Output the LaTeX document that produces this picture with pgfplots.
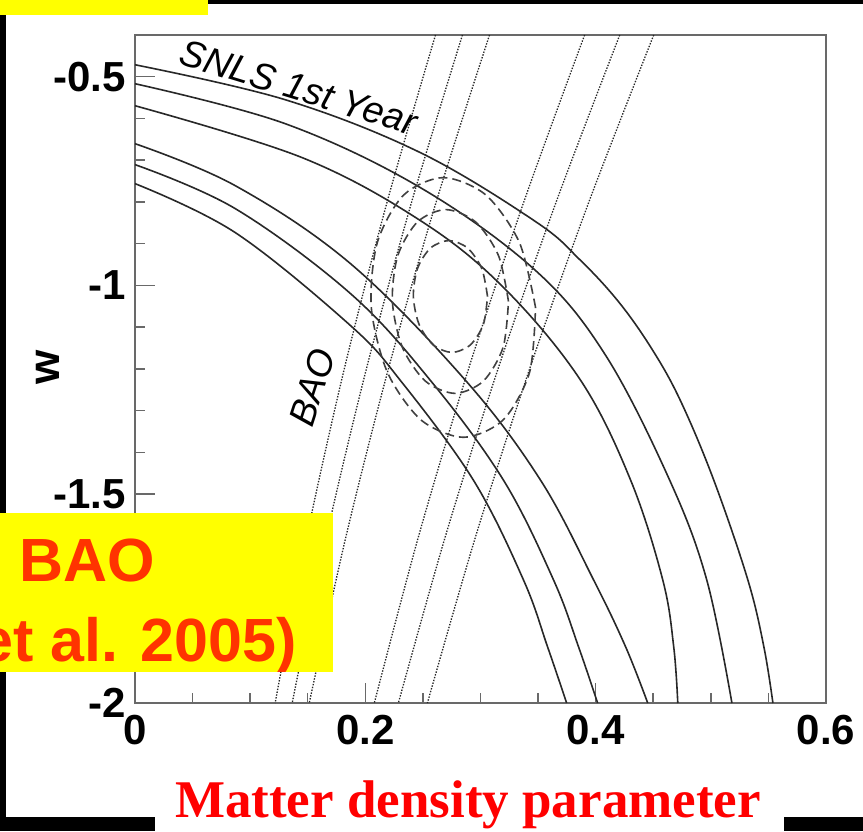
\documentclass[border=0pt]{standalone}
\usepackage{fontspec}
\setmainfont{Liberation Sans}
\newfontfamily\timesfont{Liberation Serif}
\usepackage{pgfplots}
\pgfplotsset{compat=1.18}
\definecolor{framegray}{RGB}{105,105,105}
\definecolor{curvegray}{RGB}{40,40,40}
\definecolor{boxyellow}{RGB}{255,255,0}
\definecolor{boxred}{RGB}{255,51,0}

\begin{document}
\begin{tikzpicture}
\path[use as bounding box] (0,0) rectangle (863pt,831pt);
\fill[black] (0,0) rectangle (863pt,831pt);
\fill[white] (6pt,14pt) rectangle (863pt,827pt);

\begin{axis}[
    at={(135pt,128pt)}, anchor=south west,
    scale only axis, width=691pt, height=668pt,
    xmin=0, xmax=0.6, ymin=-2, ymax=-0.4,
    xtick={0,0.2,0.4,0.6}, xticklabels={0,0.2,0.4,0.6},
    ytick={-2,-1.5,-1,-0.5}, yticklabels={-2,-1.5,-1,-0.5},
    minor x tick num=3, minor y tick num=4,
    tick align=inside, xtick pos=left, ytick pos=left,
    major tick length=20pt, minor tick length=10pt,
    tick style={line width=1.5pt, framegray},
    axis line style={line width=2pt, framegray},
    tick label style={font=\fontsize{42}{42}\selectfont\bfseries, inner sep=0pt},
    xticklabel style={yshift=-12pt},
    yticklabel style={xshift=-9pt},
]
% SNLS contours (solid)
\pgfplotsset{snls/.style={curvegray, line width=1.6pt, smooth, tension=0.6}}
\addplot[snls] coordinates {
 (0,-0.4713) (0.1304,-0.5550) (0.2478,-0.6818) (0.3478,-0.8469) (0.3861,-0.9378)
 (0.4204,-1.0407) (0.4496,-1.1555) (0.4739,-1.2775) (0.5026,-1.4665) (0.5322,-1.7057)
 (0.5461,-1.8660) (0.5539,-2.0)};
\addplot[snls] coordinates {
 (0,-0.5167) (0.1304,-0.6124) (0.2478,-0.7656) (0.3478,-0.9641) (0.4087,-1.1675)
 (0.4643,-1.4665) (0.4965,-1.7057) (0.5183,-2.0)};
\addplot[snls] coordinates {
 (0,-0.5694) (0.1452,-0.6938) (0.2478,-0.8445) (0.3200,-1.0048) (0.3870,-1.2273)
 (0.4304,-1.4665) (0.4583,-1.7057) (0.4678,-1.8660) (0.4713,-2.0)};
\addplot[snls] coordinates {
 (0,-0.6603) (0.0870,-0.7608) (0.1870,-0.9474) (0.2870,-1.2273) (0.3522,-1.4665)
 (0.3983,-1.7057) (0.4261,-1.8660) (0.4452,-2.0)};
\addplot[snls] coordinates {
 (0,-0.7105) (0.0870,-0.8158) (0.1870,-1.0191) (0.2565,-1.2273) (0.3200,-1.4665)
 (0.3635,-1.7057) (0.3852,-1.8660) (0.4017,-2.0)};
\addplot[snls] coordinates {
 (0,-0.7560) (0.0870,-0.8732) (0.1870,-1.0957) (0.2304,-1.2273) (0.2939,-1.4665)
 (0.3374,-1.7057) (0.3583,-1.8660) (0.3748,-2.0)};

% BAO bands (dotted)
\pgfplotsset{bao/.style={black!85, line width=1.3pt, dash pattern=on 1.4pt off 1.5pt, smooth}}
\addplot[bao] coordinates {(0.2609,-0.4) (0.2189,-0.8) (0.1817,-1.2) (0.1493,-1.6) (0.1217,-2.0)};
\addplot[bao] coordinates {(0.2843,-0.4) (0.2402,-0.8) (0.2009,-1.2) (0.1663,-1.6) (0.1365,-2.0)};
\addplot[bao] coordinates {(0.3078,-0.4) (0.2615,-0.8) (0.2200,-1.2) (0.1833,-1.6) (0.1513,-2.0)};
\addplot[bao] coordinates {(0.3904,-0.4) (0.3376,-0.8) (0.2896,-1.2) (0.2463,-1.6) (0.2078,-2.0)};
\addplot[bao] coordinates {(0.4209,-0.4) (0.3657,-0.8) (0.3152,-1.2) (0.2696,-1.6) (0.2287,-2.0)};
\addplot[bao] coordinates {(0.4504,-0.4) (0.3941,-0.8) (0.3426,-1.2) (0.2959,-1.6) (0.2539,-2.0)};

% combined contours (dashed)
\pgfplotsset{comb/.style={black!75, line width=1.6pt, dash pattern=on 9pt off 5pt, smooth}}
\addplot[comb] coordinates {
 (0.3061,-1.0263) (0.3011,-0.9593) (0.2888,-0.9103) (0.2726,-0.8923) (0.2566,-0.9103)
 (0.2453,-0.9593) (0.2417,-1.0263) (0.2467,-1.0933) (0.2590,-1.1423) (0.2752,-1.1603)
 (0.2912,-1.1423) (0.3025,-1.0933) (0.3061,-1.0263)};
\addplot[comb] coordinates {
 (0.3243,-1.0383) (0.3156,-0.9282) (0.2957,-0.8477) (0.2699,-0.8182) (0.2453,-0.8477)
 (0.2282,-0.9282) (0.2235,-1.0383) (0.2322,-1.1484) (0.2521,-1.2289) (0.2779,-1.2584)
 (0.3025,-1.2289) (0.3196,-1.1484) (0.3243,-1.0383)};
\addplot[comb] coordinates {
 (0.3478,-1.0526) (0.3338,-0.8971) (0.3047,-0.7833) (0.2678,-0.7416) (0.2333,-0.7833)
 (0.2104,-0.8971) (0.2052,-1.0526) (0.2192,-1.2081) (0.2483,-1.3219) (0.2852,-1.3636)
 (0.3197,-1.3219) (0.3426,-1.2081) (0.3478,-1.0526)};

\node[rotate=-17, anchor=base, inner sep=0pt, font=\fontsize{37.5}{37.5}\selectfont\itshape]
  at (axis cs:0.1391,-0.5550) {SNLS 1st Year};
\node[rotate=72, inner sep=0pt, font=\fontsize{37}{37}\selectfont\itshape]
  at (axis cs:0.1539,-1.2440) {BAO};
\end{axis}

% y axis title
\node[rotate=90, inner sep=0pt, font=\fontsize{44}{44}\selectfont\bfseries] at (48pt,464pt) {w};

% overlays
\fill[boxyellow] (0,816pt) rectangle (208pt,831pt);
\fill[boxyellow] (0,159pt) rectangle (333pt,318pt);
\begin{scope}
\clip (0,159pt) rectangle (333pt,318pt);
\node[anchor=base west, inner sep=0pt, text=boxred, font=\fontsize{61}{61}\selectfont\bfseries]
  at (19pt,249pt) {BAO};
\node[anchor=base east, inner sep=0pt, text=boxred, font=\fontsize{61}{61}\selectfont\bfseries]
  at (297pt,169pt) {et al. 2005)};
\end{scope}

\fill[white] (155pt,0) rectangle (784pt,61pt);
\node[anchor=base, inner sep=0pt, text=red, font=\timesfont\bfseries\fontsize{53}{53}\selectfont]
  at (468pt,14pt) {Matter density parameter};
\end{tikzpicture}
\end{document}
